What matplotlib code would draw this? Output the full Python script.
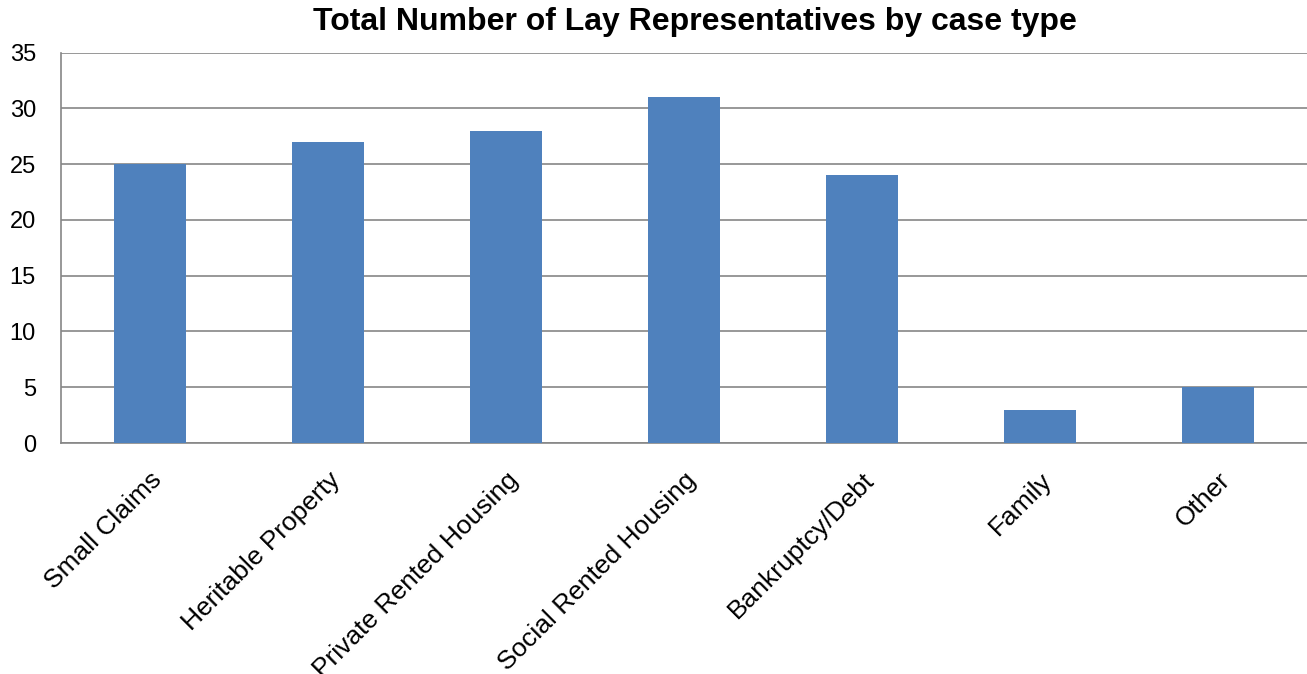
import numpy as np
import matplotlib.pyplot as plt

plt.rcParams['font.family'] = ['Liberation Sans', 'DejaVu Sans']

case_types = ["Small Claims", "Heritable Property", "Private Rented Housing",
              "Social Rented Housing", "Bankruptcy/Debt", "Family", "Other"]
counts = [25, 27, 28, 31, 24, 3, 5]
y_ticks = [0, 5, 10, 15, 20, 25, 30, 35]

fig = plt.figure(figsize=(13.07, 6.74), dpi=100)
ax = fig.add_axes([61 / 1307, 1 - 443 / 674, 1246 / 1307, (443 - 52.5) / 674])

x = np.arange(len(case_types))
ax.bar(x, counts, width=0.4, color="#4F81BD", zorder=3)

ax.set_xlim(-0.5, len(case_types) - 0.5)
ax.set_ylim(0, 35)
ax.set_yticks(y_ticks)
ax.set_xticks(x)
ax.set_xticklabels(case_types, rotation=45, ha="right", rotation_mode="anchor", fontsize=19)
ax.tick_params(axis="y", labelsize=17, length=0, pad=18)
ax.tick_params(axis="x", length=0, pad=18)
ax.yaxis.grid(True, color="#868686", linewidth=1.2, zorder=0)

for s in ["top", "right"]:
    ax.spines[s].set_visible(False)
for s in ["left", "bottom"]:
    ax.spines[s].set_color("#868686")
    ax.spines[s].set_linewidth(1.2)

fig.text(0.532, 1 - 22 / 674, "Total Number of Lay Representatives by case type",
         ha="center", va="center", fontsize=23, fontweight="bold")

fig.savefig("out.png", dpi=100)
